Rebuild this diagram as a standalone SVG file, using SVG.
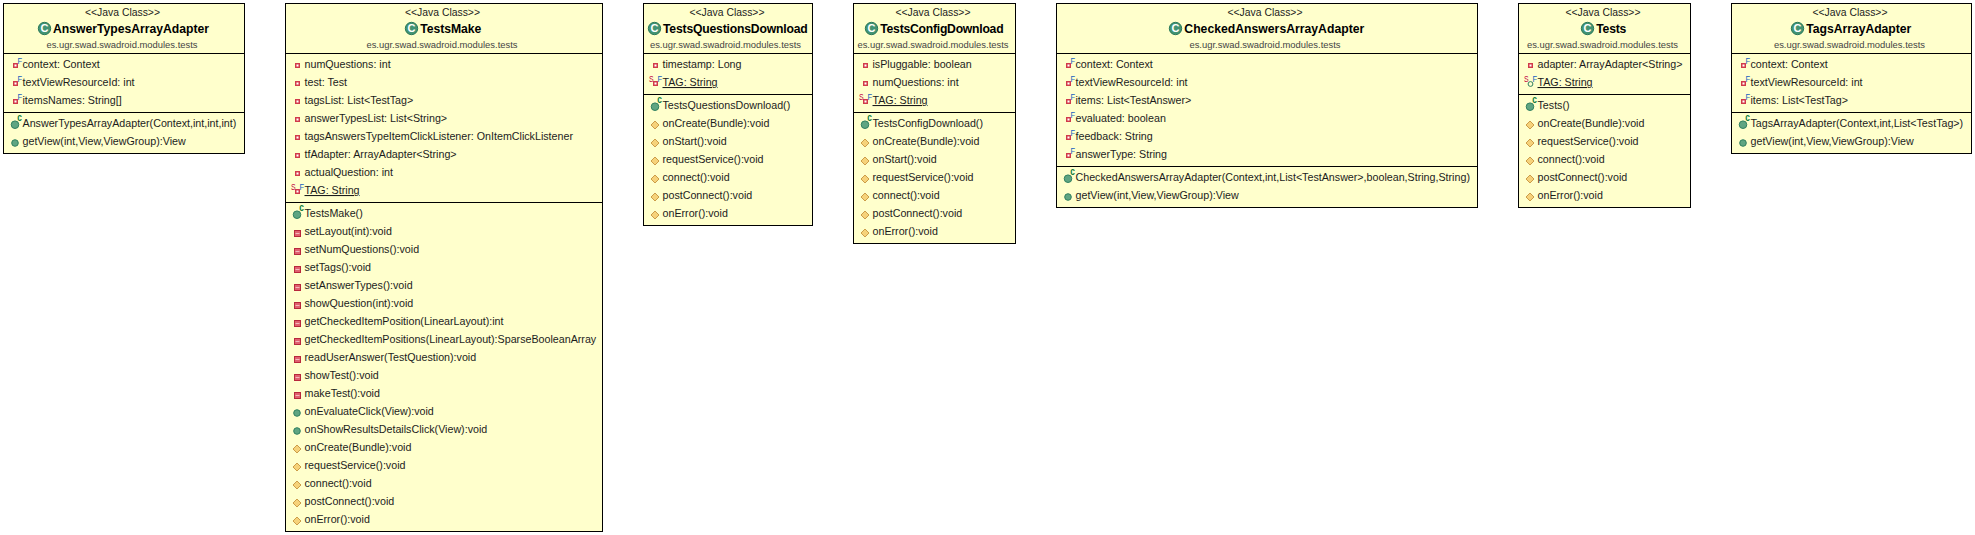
<svg xmlns="http://www.w3.org/2000/svg" width="1975" height="535" viewBox="0 0 1975 535">
<style>
text{font-family:"Liberation Sans",Arial,sans-serif;fill:#1c1c1c}
.box{fill:#ffffcc;stroke:#000;stroke-width:1}
.div{stroke:#000;stroke-width:1}
.st{font-size:10.38px;text-anchor:middle}
.nm{font-size:12.2px;font-weight:bold;fill:#000}
.pk{font-size:9.41px;text-anchor:middle;fill:#444}
.m{font-size:10.7px}
.u{text-decoration:underline}
.ic{font-size:9.5px}
</style>
<defs>
<g id="cls"><circle r="6.2" fill="#439373" stroke="#2a7a5a" stroke-width="1"/><text x="0" y="3.9" text-anchor="middle" style="font-size:11px;font-weight:bold;fill:#fff">C</text></g>
<g id="pf"><rect x="-9" y="-4.5" width="4" height="4" fill="#d8404f" stroke="#d03a4a"/><rect x="-8" y="-3.5" width="2" height="2" fill="#fff"/></g>
<g id="pm"><rect x="-10" y="-4.5" width="6" height="6" fill="#e0606f" stroke="#b8283c"/><rect x="-9" y="-2" width="4" height="1" fill="#f4b8bc"/></g>
<circle id="pub" cx="-7.5" cy="-2" r="3.3" fill="#5fa582" stroke="#2f8060"/>
<polygon id="pro" points="-7.5,-6 -3.5,-2 -7.5,2 -11.5,-2" fill="#f6d27a" stroke="#cc9c48"/>
<g id="ctor"><circle cx="-7.5" cy="-2.3" r="3.8" fill="#5fa582" stroke="#2f8060"/><text x="-5.2" y="-5.8" textLength="4.6" lengthAdjust="spacingAndGlyphs" style="font-size:10px;font-weight:bold;fill:#0a7a3a">c</text></g>
<text id="f" x="-5" y="-4.5" class="ic" textLength="4.6" lengthAdjust="spacingAndGlyphs" style="fill:#2060c0">F</text>
<text id="s" x="-13.6" y="-4.2" class="ic" textLength="4.6" lengthAdjust="spacingAndGlyphs" style="fill:#c00040">S</text>
<g id="pubr"><circle cx="-7" cy="-2" r="2.4" fill="#ffffcc" stroke="#2f8060"/></g>
</defs>
<g id="connectors"/>

<g id="AnswerTypesArrayAdapter">
<rect class="box" x="3.5" y="3.5" width="241" height="150"/>
<line class="div" x1="3.5" x2="244.5" y1="53.5" y2="53.5"/><line class="div" x1="3.5" x2="244.5" y1="112.5" y2="112.5"/>
<text class="st" x="122.5" y="16">&lt;&lt;Java Class&gt;&gt;</text>
<use href="#cls" x="44.5" y="28.5"/><text class="nm" x="53" y="33" textLength="156">AnswerTypesArrayAdapter</text>
<text class="pk" x="122" y="48">es.ugr.swad.swadroid.modules.tests</text>
<use href="#pf" x="22.5" y="68"/><use href="#f" x="22.5" y="68"/><text class="m" x="22.5" y="68">context: Context</text>
<use href="#pf" x="22.5" y="86"/><use href="#f" x="22.5" y="86"/><text class="m" x="22.5" y="86">textViewResourceId: int</text>
<use href="#pf" x="22.5" y="104"/><use href="#f" x="22.5" y="104"/><text class="m" x="22.5" y="104">itemsNames: String[]</text>
<use href="#ctor" x="22.5" y="127"/><text class="m" x="22.5" y="127">AnswerTypesArrayAdapter(Context,int,int,int)</text>
<use href="#pub" x="22.5" y="145"/><text class="m" x="22.5" y="145">getView(int,View,ViewGroup):View</text>
</g>

<g id="TestsMake">
<rect class="box" x="285.5" y="3.5" width="317" height="528"/>
<line class="div" x1="285.5" x2="602.5" y1="53.5" y2="53.5"/><line class="div" x1="285.5" x2="602.5" y1="202.5" y2="202.5"/>
<text class="st" x="442.5" y="16">&lt;&lt;Java Class&gt;&gt;</text>
<use href="#cls" x="411.5" y="28.5"/><text class="nm" x="420.3" y="33" textLength="61">TestsMake</text>
<text class="pk" x="442" y="48">es.ugr.swad.swadroid.modules.tests</text>
<use href="#pf" x="304.5" y="68"/><text class="m" x="304.5" y="68">numQuestions: int</text>
<use href="#pf" x="304.5" y="86"/><text class="m" x="304.5" y="86">test: Test</text>
<use href="#pf" x="304.5" y="104"/><text class="m" x="304.5" y="104">tagsList: List&lt;TestTag&gt;</text>
<use href="#pf" x="304.5" y="122"/><text class="m" x="304.5" y="122">answerTypesList: List&lt;String&gt;</text>
<use href="#pf" x="304.5" y="140"/><text class="m" x="304.5" y="140">tagsAnswersTypeItemClickListener: OnItemClickListener</text>
<use href="#pf" x="304.5" y="158"/><text class="m" x="304.5" y="158">tfAdapter: ArrayAdapter&lt;String&gt;</text>
<use href="#pf" x="304.5" y="176"/><text class="m" x="304.5" y="176">actualQuestion: int</text>
<use href="#s" x="304.5" y="194"/><use href="#pf" x="304.5" y="194"/><use href="#f" x="304.5" y="194"/><text class="m u" x="304.5" y="194">TAG: String</text>
<use href="#ctor" x="304.5" y="217"/><text class="m" x="304.5" y="217">TestsMake()</text>
<use href="#pm" x="304.5" y="235"/><text class="m" x="304.5" y="235">setLayout(int):void</text>
<use href="#pm" x="304.5" y="253"/><text class="m" x="304.5" y="253">setNumQuestions():void</text>
<use href="#pm" x="304.5" y="271"/><text class="m" x="304.5" y="271">setTags():void</text>
<use href="#pm" x="304.5" y="289"/><text class="m" x="304.5" y="289">setAnswerTypes():void</text>
<use href="#pm" x="304.5" y="307"/><text class="m" x="304.5" y="307">showQuestion(int):void</text>
<use href="#pm" x="304.5" y="325"/><text class="m" x="304.5" y="325">getCheckedItemPosition(LinearLayout):int</text>
<use href="#pm" x="304.5" y="343"/><text class="m" x="304.5" y="343">getCheckedItemPositions(LinearLayout):SparseBooleanArray</text>
<use href="#pm" x="304.5" y="361"/><text class="m" x="304.5" y="361">readUserAnswer(TestQuestion):void</text>
<use href="#pm" x="304.5" y="379"/><text class="m" x="304.5" y="379">showTest():void</text>
<use href="#pm" x="304.5" y="397"/><text class="m" x="304.5" y="397">makeTest():void</text>
<use href="#pub" x="304.5" y="415"/><text class="m" x="304.5" y="415">onEvaluateClick(View):void</text>
<use href="#pub" x="304.5" y="433"/><text class="m" x="304.5" y="433">onShowResultsDetailsClick(View):void</text>
<use href="#pro" x="304.5" y="451"/><text class="m" x="304.5" y="451">onCreate(Bundle):void</text>
<use href="#pro" x="304.5" y="469"/><text class="m" x="304.5" y="469">requestService():void</text>
<use href="#pro" x="304.5" y="487"/><text class="m" x="304.5" y="487">connect():void</text>
<use href="#pro" x="304.5" y="505"/><text class="m" x="304.5" y="505">postConnect():void</text>
<use href="#pro" x="304.5" y="523"/><text class="m" x="304.5" y="523">onError():void</text>
</g>

<g id="TestsQuestionsDownload">
<rect class="box" x="643.5" y="3.5" width="169" height="222"/>
<line class="div" x1="643.5" x2="812.5" y1="53.5" y2="53.5"/><line class="div" x1="643.5" x2="812.5" y1="94.5" y2="94.5"/>
<text class="st" x="727" y="16">&lt;&lt;Java Class&gt;&gt;</text>
<use href="#cls" x="654.5" y="28.5"/><text class="nm" x="663" y="33" textLength="144.7">TestsQuestionsDownload</text>
<text class="pk" x="725.5" y="48">es.ugr.swad.swadroid.modules.tests</text>
<use href="#pf" x="662.5" y="68"/><text class="m" x="662.5" y="68">timestamp: Long</text>
<use href="#s" x="662.5" y="86"/><use href="#pf" x="662.5" y="86"/><use href="#f" x="662.5" y="86"/><text class="m u" x="662.5" y="86">TAG: String</text>
<use href="#ctor" x="662.5" y="109"/><text class="m" x="662.5" y="109">TestsQuestionsDownload()</text>
<use href="#pro" x="662.5" y="127"/><text class="m" x="662.5" y="127">onCreate(Bundle):void</text>
<use href="#pro" x="662.5" y="145"/><text class="m" x="662.5" y="145">onStart():void</text>
<use href="#pro" x="662.5" y="163"/><text class="m" x="662.5" y="163">requestService():void</text>
<use href="#pro" x="662.5" y="181"/><text class="m" x="662.5" y="181">connect():void</text>
<use href="#pro" x="662.5" y="199"/><text class="m" x="662.5" y="199">postConnect():void</text>
<use href="#pro" x="662.5" y="217"/><text class="m" x="662.5" y="217">onError():void</text>
</g>

<g id="TestsConfigDownload">
<rect class="box" x="853.5" y="3.5" width="162" height="240"/>
<line class="div" x1="853.5" x2="1015.5" y1="53.5" y2="53.5"/><line class="div" x1="853.5" x2="1015.5" y1="112.5" y2="112.5"/>
<text class="st" x="933" y="16">&lt;&lt;Java Class&gt;&gt;</text>
<use href="#cls" x="871.5" y="28.5"/><text class="nm" x="880.3" y="33" textLength="123.3">TestsConfigDownload</text>
<text class="pk" x="933" y="48">es.ugr.swad.swadroid.modules.tests</text>
<use href="#pf" x="872.5" y="68"/><text class="m" x="872.5" y="68">isPluggable: boolean</text>
<use href="#pf" x="872.5" y="86"/><text class="m" x="872.5" y="86">numQuestions: int</text>
<use href="#s" x="872.5" y="104"/><use href="#pf" x="872.5" y="104"/><use href="#f" x="872.5" y="104"/><text class="m u" x="872.5" y="104">TAG: String</text>
<use href="#ctor" x="872.5" y="127"/><text class="m" x="872.5" y="127">TestsConfigDownload()</text>
<use href="#pro" x="872.5" y="145"/><text class="m" x="872.5" y="145">onCreate(Bundle):void</text>
<use href="#pro" x="872.5" y="163"/><text class="m" x="872.5" y="163">onStart():void</text>
<use href="#pro" x="872.5" y="181"/><text class="m" x="872.5" y="181">requestService():void</text>
<use href="#pro" x="872.5" y="199"/><text class="m" x="872.5" y="199">connect():void</text>
<use href="#pro" x="872.5" y="217"/><text class="m" x="872.5" y="217">postConnect():void</text>
<use href="#pro" x="872.5" y="235"/><text class="m" x="872.5" y="235">onError():void</text>
</g>

<g id="CheckedAnswersArrayAdapter">
<rect class="box" x="1056.5" y="3.5" width="421" height="204"/>
<line class="div" x1="1056.5" x2="1477.5" y1="53.5" y2="53.5"/><line class="div" x1="1056.5" x2="1477.5" y1="166.5" y2="166.5"/>
<text class="st" x="1265" y="16">&lt;&lt;Java Class&gt;&gt;</text>
<use href="#cls" x="1175.5" y="28.5"/><text class="nm" x="1184.3" y="33" textLength="180">CheckedAnswersArrayAdapter</text>
<text class="pk" x="1265" y="48">es.ugr.swad.swadroid.modules.tests</text>
<use href="#pf" x="1075.5" y="68"/><use href="#f" x="1075.5" y="68"/><text class="m" x="1075.5" y="68">context: Context</text>
<use href="#pf" x="1075.5" y="86"/><use href="#f" x="1075.5" y="86"/><text class="m" x="1075.5" y="86">textViewResourceId: int</text>
<use href="#pf" x="1075.5" y="104"/><use href="#f" x="1075.5" y="104"/><text class="m" x="1075.5" y="104">items: List&lt;TestAnswer&gt;</text>
<use href="#pf" x="1075.5" y="122"/><use href="#f" x="1075.5" y="122"/><text class="m" x="1075.5" y="122">evaluated: boolean</text>
<use href="#pf" x="1075.5" y="140"/><use href="#f" x="1075.5" y="140"/><text class="m" x="1075.5" y="140">feedback: String</text>
<use href="#pf" x="1075.5" y="158"/><use href="#f" x="1075.5" y="158"/><text class="m" x="1075.5" y="158">answerType: String</text>
<use href="#ctor" x="1075.5" y="181"/><text class="m" x="1075.5" y="181">CheckedAnswersArrayAdapter(Context,int,List&lt;TestAnswer&gt;,boolean,String,String)</text>
<use href="#pub" x="1075.5" y="199"/><text class="m" x="1075.5" y="199">getView(int,View,ViewGroup):View</text>
</g>

<g id="Tests">
<rect class="box" x="1518.5" y="3.5" width="172" height="204"/>
<line class="div" x1="1518.5" x2="1690.5" y1="53.5" y2="53.5"/><line class="div" x1="1518.5" x2="1690.5" y1="94.5" y2="94.5"/>
<text class="st" x="1603" y="16">&lt;&lt;Java Class&gt;&gt;</text>
<use href="#cls" x="1587.5" y="28.5"/><text class="nm" x="1596.3" y="33" textLength="30">Tests</text>
<text class="pk" x="1602.5" y="48">es.ugr.swad.swadroid.modules.tests</text>
<use href="#pf" x="1537.5" y="68"/><text class="m" x="1537.5" y="68">adapter: ArrayAdapter&lt;String&gt;</text>
<use href="#s" x="1537.5" y="86"/><use href="#pubr" x="1537.5" y="86"/><use href="#f" x="1537.5" y="86"/><text class="m u" x="1537.5" y="86">TAG: String</text>
<use href="#ctor" x="1537.5" y="109"/><text class="m" x="1537.5" y="109">Tests()</text>
<use href="#pro" x="1537.5" y="127"/><text class="m" x="1537.5" y="127">onCreate(Bundle):void</text>
<use href="#pro" x="1537.5" y="145"/><text class="m" x="1537.5" y="145">requestService():void</text>
<use href="#pro" x="1537.5" y="163"/><text class="m" x="1537.5" y="163">connect():void</text>
<use href="#pro" x="1537.5" y="181"/><text class="m" x="1537.5" y="181">postConnect():void</text>
<use href="#pro" x="1537.5" y="199"/><text class="m" x="1537.5" y="199">onError():void</text>
</g>

<g id="TagsArrayAdapter">
<rect class="box" x="1731.5" y="3.5" width="240" height="150"/>
<line class="div" x1="1731.5" x2="1971.5" y1="53.5" y2="53.5"/><line class="div" x1="1731.5" x2="1971.5" y1="112.5" y2="112.5"/>
<text class="st" x="1850" y="16">&lt;&lt;Java Class&gt;&gt;</text>
<use href="#cls" x="1797.5" y="28.5"/><text class="nm" x="1806.3" y="33" textLength="105">TagsArrayAdapter</text>
<text class="pk" x="1849.5" y="48">es.ugr.swad.swadroid.modules.tests</text>
<use href="#pf" x="1750.5" y="68"/><use href="#f" x="1750.5" y="68"/><text class="m" x="1750.5" y="68">context: Context</text>
<use href="#pf" x="1750.5" y="86"/><use href="#f" x="1750.5" y="86"/><text class="m" x="1750.5" y="86">textViewResourceId: int</text>
<use href="#pf" x="1750.5" y="104"/><use href="#f" x="1750.5" y="104"/><text class="m" x="1750.5" y="104">items: List&lt;TestTag&gt;</text>
<use href="#ctor" x="1750.5" y="127"/><text class="m" x="1750.5" y="127">TagsArrayAdapter(Context,int,List&lt;TestTag&gt;)</text>
<use href="#pub" x="1750.5" y="145"/><text class="m" x="1750.5" y="145">getView(int,View,ViewGroup):View</text>
</g>
</svg>
